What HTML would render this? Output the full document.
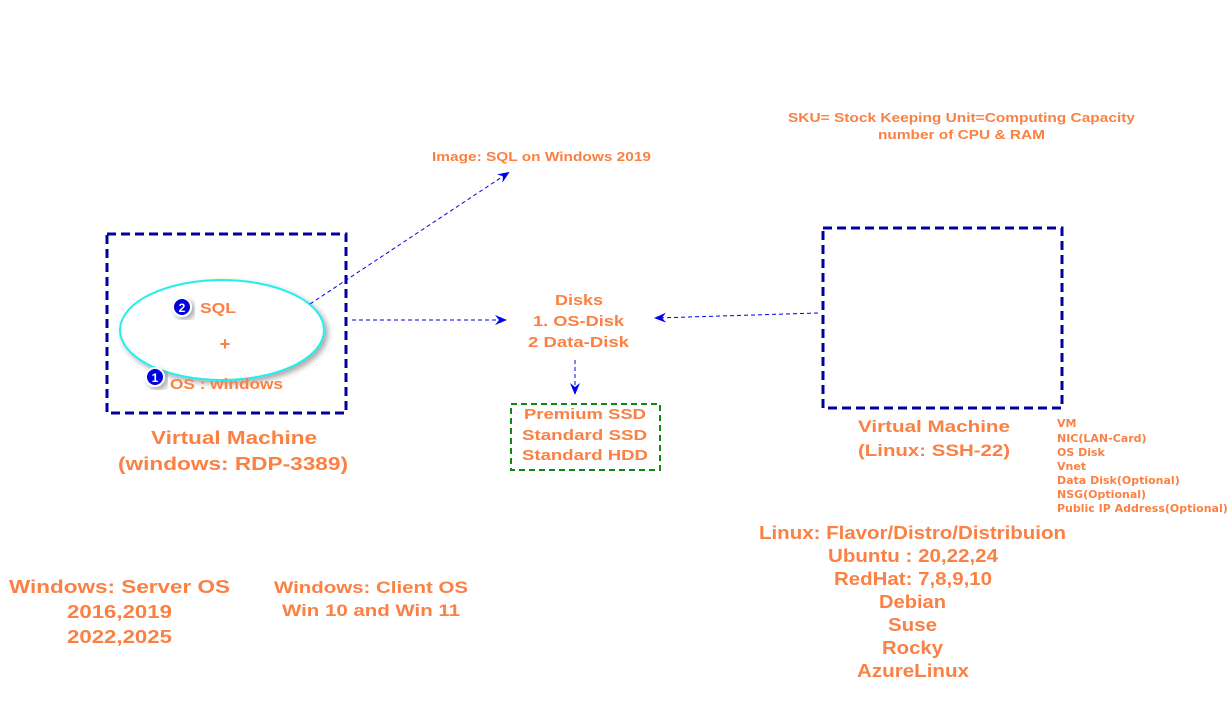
<!DOCTYPE html>
<html><head><meta charset="utf-8"><style>
html,body{margin:0;padding:0;background:#fff;}
svg{display:block}
text{font-family:"Liberation Sans",sans-serif;font-weight:bold;fill:#fb8043;}
</style></head><body>
<svg width="1230" height="707" viewBox="0 0 1230 707" xmlns="http://www.w3.org/2000/svg">
<defs>
<marker id="a" markerWidth="12" markerHeight="10" refX="10" refY="5" orient="auto" markerUnits="userSpaceOnUse">
<path d="M0,0 L12,5 L0,10 L4,5 z" fill="#0000ee"/></marker>
<filter id="sh" x="-20%" y="-20%" width="140%" height="140%"><feDropShadow dx="3" dy="3" stdDeviation="3" flood-color="#000" flood-opacity="0.35"/></filter>
</defs>
<rect x="107" y="234" width="239" height="179" fill="none" stroke="#00009c" stroke-width="3" stroke-dasharray="9,5"/>
<rect x="823" y="228" width="239" height="180" fill="none" stroke="#00009c" stroke-width="3" stroke-dasharray="9,5"/>
<ellipse cx="222" cy="330" rx="102" ry="50" fill="#fff" stroke="#22eeee" stroke-width="2" filter="url(#sh)"/>
<rect x="511" y="404" width="149" height="66" fill="none" stroke="#118811" stroke-width="2" stroke-dasharray="6,4"/>
<g stroke="#0000ee" stroke-width="1" stroke-dasharray="4,3" fill="none">
<line x1="310" y1="304" x2="508" y2="173" marker-end="url(#a)"/>
<line x1="352" y1="320" x2="505" y2="320" marker-end="url(#a)"/>
<line x1="818" y1="313" x2="656" y2="318" marker-end="url(#a)"/>
<line x1="575" y1="360" x2="575" y2="393" marker-end="url(#a)"/>
</g>
<circle cx="182" cy="307" r="9" fill="#0000dd" stroke="#fff" stroke-width="2" filter="url(#sh)"/>
<text x="182" y="312" text-anchor="middle" style="fill:#fff;font-size:12px">2</text>
<circle cx="155" cy="377" r="9" fill="#0000dd" stroke="#fff" stroke-width="2" filter="url(#sh)"/>
<text x="155" y="382" text-anchor="middle" style="fill:#fff;font-size:12px">1</text>
<text x="200" y="313" font-size="15" textLength="36" lengthAdjust="spacingAndGlyphs">SQL</text>
<text x="225" y="350" font-size="18" text-anchor="middle">+</text>
<text x="170" y="389" font-size="15" textLength="113" lengthAdjust="spacingAndGlyphs">OS : windows</text>
<g lengthAdjust="spacingAndGlyphs">
<text x="432" y="161" font-size="13" textLength="219" lengthAdjust="spacingAndGlyphs">Image: SQL on Windows 2019</text>
<text x="788" y="122" font-size="13" textLength="347" lengthAdjust="spacingAndGlyphs">SKU= Stock Keeping Unit=Computing Capacity</text>
<text x="878" y="139" font-size="13" textLength="167" lengthAdjust="spacingAndGlyphs">number of CPU &amp; RAM</text>
<text x="555" y="305" font-size="15" textLength="48" lengthAdjust="spacingAndGlyphs">Disks</text>
<text x="533" y="326" font-size="15" textLength="91" lengthAdjust="spacingAndGlyphs">1. OS-Disk</text>
<text x="528" y="347" font-size="15" textLength="101" lengthAdjust="spacingAndGlyphs">2 Data-Disk</text>
<text x="524" y="419" font-size="15" textLength="122" lengthAdjust="spacingAndGlyphs">Premium SSD</text>
<text x="522" y="440" font-size="15" textLength="125" lengthAdjust="spacingAndGlyphs">Standard SSD</text>
<text x="522" y="460" font-size="15" textLength="126" lengthAdjust="spacingAndGlyphs">Standard HDD</text>
<text x="151" y="444" font-size="18" textLength="166" lengthAdjust="spacingAndGlyphs">Virtual Machine</text>
<text x="118" y="470" font-size="18" textLength="230" lengthAdjust="spacingAndGlyphs">(windows: RDP-3389)</text>
<text x="858" y="432" font-size="17" textLength="152" lengthAdjust="spacingAndGlyphs">Virtual Machine</text>
<text x="858" y="456" font-size="17" textLength="152" lengthAdjust="spacingAndGlyphs">(Linux: SSH-22)</text>
<text x="759" y="539" font-size="18" textLength="307" lengthAdjust="spacingAndGlyphs">Linux: Flavor/Distro/Distribuion</text>
<text x="828" y="562" font-size="18" textLength="170" lengthAdjust="spacingAndGlyphs">Ubuntu : 20,22,24</text>
<text x="834" y="585" font-size="18" textLength="158" lengthAdjust="spacingAndGlyphs">RedHat: 7,8,9,10</text>
<text x="879" y="608" font-size="18" textLength="67" lengthAdjust="spacingAndGlyphs">Debian</text>
<text x="888" y="631" font-size="18" textLength="49" lengthAdjust="spacingAndGlyphs">Suse</text>
<text x="882" y="654" font-size="18" textLength="61" lengthAdjust="spacingAndGlyphs">Rocky</text>
<text x="857" y="677" font-size="18" textLength="112" lengthAdjust="spacingAndGlyphs">AzureLinux</text>
<text x="9" y="593" font-size="18" textLength="221" lengthAdjust="spacingAndGlyphs">Windows: Server OS</text>
<text x="67" y="618" font-size="18" textLength="105" lengthAdjust="spacingAndGlyphs">2016,2019</text>
<text x="67" y="643" font-size="18" textLength="105" lengthAdjust="spacingAndGlyphs">2022,2025</text>
<text x="274" y="593" font-size="17" textLength="194" lengthAdjust="spacingAndGlyphs">Windows: Client OS</text>
<text x="282" y="616" font-size="17" textLength="178" lengthAdjust="spacingAndGlyphs">Win 10 and Win 11</text>
</g>
<g font-size="11" style="font-family:'DejaVu Sans',sans-serif">
<text x="1057" y="427" style="font-family:'DejaVu Sans',sans-serif">VM</text>
<text x="1057" y="442" style="font-family:'DejaVu Sans',sans-serif">NIC(LAN-Card)</text>
<text x="1057" y="456" style="font-family:'DejaVu Sans',sans-serif">OS Disk</text>
<text x="1057" y="470" style="font-family:'DejaVu Sans',sans-serif">Vnet</text>
<text x="1057" y="484" style="font-family:'DejaVu Sans',sans-serif">Data Disk(Optional)</text>
<text x="1057" y="498" style="font-family:'DejaVu Sans',sans-serif">NSG(Optional)</text>
<text x="1057" y="512" style="font-family:'DejaVu Sans',sans-serif">Public IP Address(Optional)</text>
</g>
</svg>
</body></html>
